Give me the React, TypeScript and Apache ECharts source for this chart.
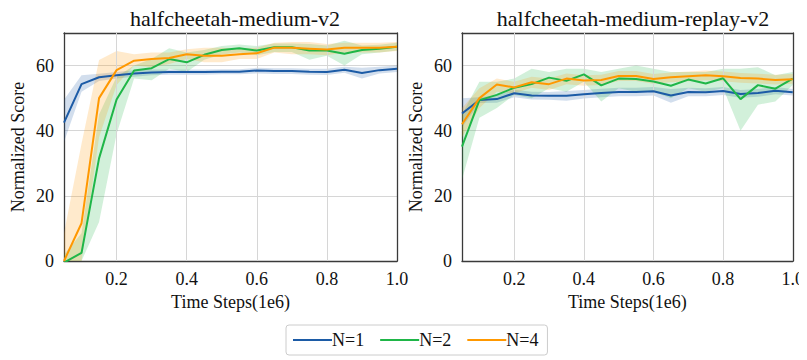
import React, { useEffect, useRef } from "react";
import * as echarts from "echarts";

const steps = [0.05, 0.1, 0.15, 0.2, 0.25, 0.3, 0.35, 0.4, 0.45, 0.5, 0.55, 0.6, 0.65, 0.7, 0.75, 0.8, 0.85, 0.9, 0.95, 1.0];
const xTicks = [0.2, 0.4, 0.6, 0.8, 1.0];
const yTicks = [0, 20, 40, 60];
const titles = ["halfcheetah-medium-v2", "halfcheetah-medium-replay-v2"];
const seriesNames = ["N=1", "N=2", "N=4"];
const colors = ["#1c5ba6", "#1fb648", "#ff9800"];

// halfcheetah-medium-v2
const medN1 = [42.5, 54.3, 56.4, 57, 57.6, 57.9, 58, 58, 58, 58.1, 58.1, 58.5, 58.3, 58.3, 58.1, 58, 58.7, 57.7, 58.6, 59];
const medN1Lo = [36.5, 52, 55.3, 56, 56.6, 57, 57.2, 57.2, 57.2, 57.3, 57.3, 57.6, 57.4, 57.4, 57.2, 57.1, 57.8, 56, 57.6, 58];
const medN1Hi = [49.5, 57, 57.5, 58, 58.6, 58.8, 58.8, 58.8, 58.8, 58.9, 58.9, 59.3, 59.2, 59.2, 59, 59, 59.6, 59.3, 59.6, 60];
const medN2 = [-0.5, 2.5, 31.5, 49.6, 58.5, 59.2, 62, 61, 63.3, 64.8, 65.3, 64.6, 65.6, 65.6, 64.6, 64.6, 63.6, 64.8, 65.2, 65.8];
const medN2Lo = [-3, -3, 12, 39, 56, 55.5, 59, 58, 61.8, 63.4, 64, 63.2, 64.2, 64.2, 61.8, 63, 60, 63.5, 64, 64.6];
const medN2Hi = [2, 8.5, 45, 56.6, 60, 62, 65.3, 64, 64.8, 66, 66.5, 66, 66.8, 66.8, 66.6, 66.2, 67.6, 66.2, 66.4, 67];
const medN4 = [0, 11.6, 50, 58.6, 61.5, 62, 62.3, 63.5, 63, 63, 63.5, 63.8, 65.5, 65.5, 65.2, 64.9, 65.5, 65.5, 65.5, 65.8];
const medN4Lo = [-3, 0, 38, 54, 60, 59.5, 60.5, 62, 61, 61, 62, 62, 64, 63.5, 63.5, 63.2, 64, 64, 64, 64.5];
const medN4Hi = [8.5, 36, 61.7, 64.5, 63.5, 64, 64, 65, 65.5, 65.5, 65.2, 65.5, 67, 67.2, 67.2, 66.6, 67, 67, 67, 67.2];

// halfcheetah-medium-replay-v2
const repN1 = [45.3, 49.4, 49.7, 51.5, 50.8, 50.7, 50.7, 51.2, 51.6, 51.9, 51.9, 52.1, 50.8, 51.9, 51.8, 52.2, 51.3, 51.6, 52.3, 51.8];
const repN1Lo = [41, 48.5, 48.6, 50.3, 49.6, 49.5, 49.2, 49.9, 50.3, 50.6, 50.6, 50.8, 48.6, 50.6, 50.6, 51, 50.1, 50.4, 51.2, 50.8];
const repN1Hi = [50, 50.3, 50.8, 52.6, 52, 51.9, 52.2, 52.5, 52.9, 53.2, 53.2, 53.4, 52.8, 53.2, 53, 53.4, 52.5, 52.8, 53.4, 52.8];
const repN2 = [35.1, 49.4, 51, 53.2, 54.3, 56.3, 55.3, 57.3, 53.9, 56, 55.9, 55.1, 53.8, 55.7, 54.5, 56.1, 49.7, 54, 52.9, 56];
const repN2Lo = [25, 44, 47, 51, 50, 53, 52, 55, 49, 53, 52, 52, 50, 53, 52, 53, 40, 48, 49, 54];
const repN2Hi = [45, 55, 55, 56, 59, 58, 59, 59, 58, 59, 60, 59, 58, 58, 58, 59, 59, 59.5, 57, 58];
const repN4 = [42, 50, 54.2, 53.3, 54.9, 54.3, 56, 55.4, 55.6, 56.8, 56.8, 55.9, 56.4, 56.7, 57, 56.7, 56.2, 56, 55.6, 55.8];
const repN4Lo = [38, 47, 52, 51.5, 53.2, 52.5, 54.3, 53.8, 54, 55.3, 55.3, 54.4, 54.9, 55.2, 55.5, 55.2, 54.7, 54.5, 54.2, 54.4];
const repN4Hi = [47, 53, 56, 55, 56.6, 56, 57.6, 57, 57.2, 58.3, 58.3, 57.4, 57.9, 58.2, 58.5, 58.2, 57.7, 57.5, 57.2, 57.4];

const panels = [
  { means: [medN1, medN2, medN4], lows: [medN1Lo, medN2Lo, medN4Lo], highs: [medN1Hi, medN2Hi, medN4Hi] },
  { means: [repN1, repN2, repN4], lows: [repN1Lo, repN2Lo, repN4Lo], highs: [repN1Hi, repN2Hi, repN4Hi] },
];

const FONT = "Liberation Serif";
const TXT = "#111";

function hexA(hex: string, a: number) {
  const r = parseInt(hex.slice(1, 3), 16);
  const g = parseInt(hex.slice(3, 5), 16);
  const b = parseInt(hex.slice(5, 7), 16);
  return `rgba(${r},${g},${b},${a})`;
}

export default function App() {
  const ref = useRef<HTMLDivElement>(null);
  useEffect(() => {
    if (!ref.current) return;
    const chart = echarts.init(ref.current, undefined, { renderer: "svg" });
    const grids = [
      { left: 64, right: 410, top: 33, bottom: 99 },
      { left: 462, right: 13, top: 33, bottom: 99 },
    ];
    const frame = { show: true, onZero: false, lineStyle: { color: "#3a3a3a", width: 1.3 } };
    const xAxes = grids.map((_, i) => ({
      type: "value",
      gridIndex: i,
      min: 0.05,
      max: 1.0,
      name: "Time Steps(1e6)",
      nameLocation: "middle",
      nameGap: 32,
      nameTextStyle: { fontFamily: FONT, fontSize: 18, color: TXT },
      axisLine: frame,
      axisTick: { show: false, customValues: xTicks },
      axisLabel: {
        customValues: xTicks,
        fontFamily: FONT,
        fontSize: 18,
        color: TXT,
        margin: 9,
        formatter: (v: number) => v.toFixed(1),
      },
      splitLine: { show: false },
    }));
    const xTop = grids.map((_, i) => ({
      type: "value",
      gridIndex: i,
      position: "top",
      min: 0.05,
      max: 1.0,
      axisLine: frame,
      axisTick: { show: false },
      axisLabel: { show: false },
      splitLine: { show: false },
    }));
    const yAxes = grids.map((_, i) => ({
      type: "value",
      gridIndex: i,
      min: 0,
      max: 70,
      interval: 20,
      name: "Normalized Score",
      nameLocation: "middle",
      nameGap: 37,
      nameTextStyle: { fontFamily: FONT, fontSize: 18, color: TXT },
      axisLine: frame,
      axisTick: { show: false },
      axisLabel: {
        fontFamily: FONT,
        fontSize: 18,
        color: TXT,
        margin: 10,
        formatter: (v: number) => (yTicks.includes(v) ? String(v) : ""),
      },
      splitLine: { show: true, lineStyle: { color: "#d6d6d6", width: 1 } },
    }));
    const yRight = grids.map((_, i) => ({
      type: "value",
      gridIndex: i,
      position: "right",
      min: 0,
      max: 70,
      axisLine: frame,
      axisTick: { show: false },
      axisLabel: { show: false },
      splitLine: { show: false },
    }));

    const series: any[] = [];
    panels.forEach((p, gi) => {
      series.push({
        type: "line",
        name: "grid" + gi,
        xAxisIndex: gi,
        yAxisIndex: gi,
        data: [],
        silent: true,
        markLine: {
          symbol: "none",
          silent: true,
          label: { show: false },
          lineStyle: { color: "#d6d6d6", type: "solid", width: 1 },
          data: xTicks.slice(0, 4).map((x) => ({ xAxis: x })),
        },
      });
      p.means.forEach((m, k) => {
        const lo = p.lows[k];
        const hi = p.highs[k];
        series.push({
          type: "custom",
          name: `band${gi}${k}`,
          xAxisIndex: gi,
          yAxisIndex: gi,
          silent: true,
          clip: true,
          z: 1,
          data: steps.map((x, j) => [x, lo[j], hi[j]]),
          encode: { x: 0, y: [1, 2] },
          renderItem: (params: any, api: any) => {
            if (params.dataIndex !== 0) return null;
            const pts: number[][] = [];
            steps.forEach((x, j) => pts.push(api.coord([x, Math.max(lo[j], 0)])));
            for (let j = steps.length - 1; j >= 0; j--) pts.push(api.coord([steps[j], Math.max(hi[j], 0)]));
            return {
              type: "polygon",
              shape: { points: pts },
              style: { fill: hexA(colors[k], 0.2), stroke: "none" },
            };
          },
        });
      });
      p.means.forEach((m, k) => {
        series.push({
          type: "line",
          name: seriesNames[k],
          xAxisIndex: gi,
          yAxisIndex: gi,
          data: steps.map((x, j) => [x, m[j]]),
          symbol: "none",
          lineStyle: { color: colors[k], width: 2 },
          itemStyle: { color: colors[k] },
          z: 5,
        });
      });
    });

    chart.setOption({
      animation: false,
      backgroundColor: "#fff",
      title: titles.map((t, i) => ({
        text: t,
        left: i === 0 ? 230 : 628,
        textAlign: "center",
        top: 2,
        textStyle: { fontFamily: FONT, fontSize: 22, fontWeight: "normal", color: TXT },
      })),
      grid: grids,
      xAxis: [...xAxes, ...xTop],
      yAxis: [...yAxes, ...yRight],
      legend: {
        data: seriesNames,
        left: 286,
        top: 325,
        itemWidth: 39,
        itemHeight: 10,
        itemGap: 16,
        padding: [6, 9, 6, 7],
        borderColor: "#cccccc",
        borderWidth: 1,
        borderRadius: 3,
        icon: "path://M0,4 L39,4 L39,6 L0,6 Z",
        textStyle: { fontFamily: FONT, fontSize: 18, color: TXT, padding: [0, 0, 0, -5] },
      },
      series,
    });
    return () => chart.dispose();
  }, []);
  return <div ref={ref} style={{ width: 807, height: 360, marginLeft: -8, marginTop: -8 }} />;
}
